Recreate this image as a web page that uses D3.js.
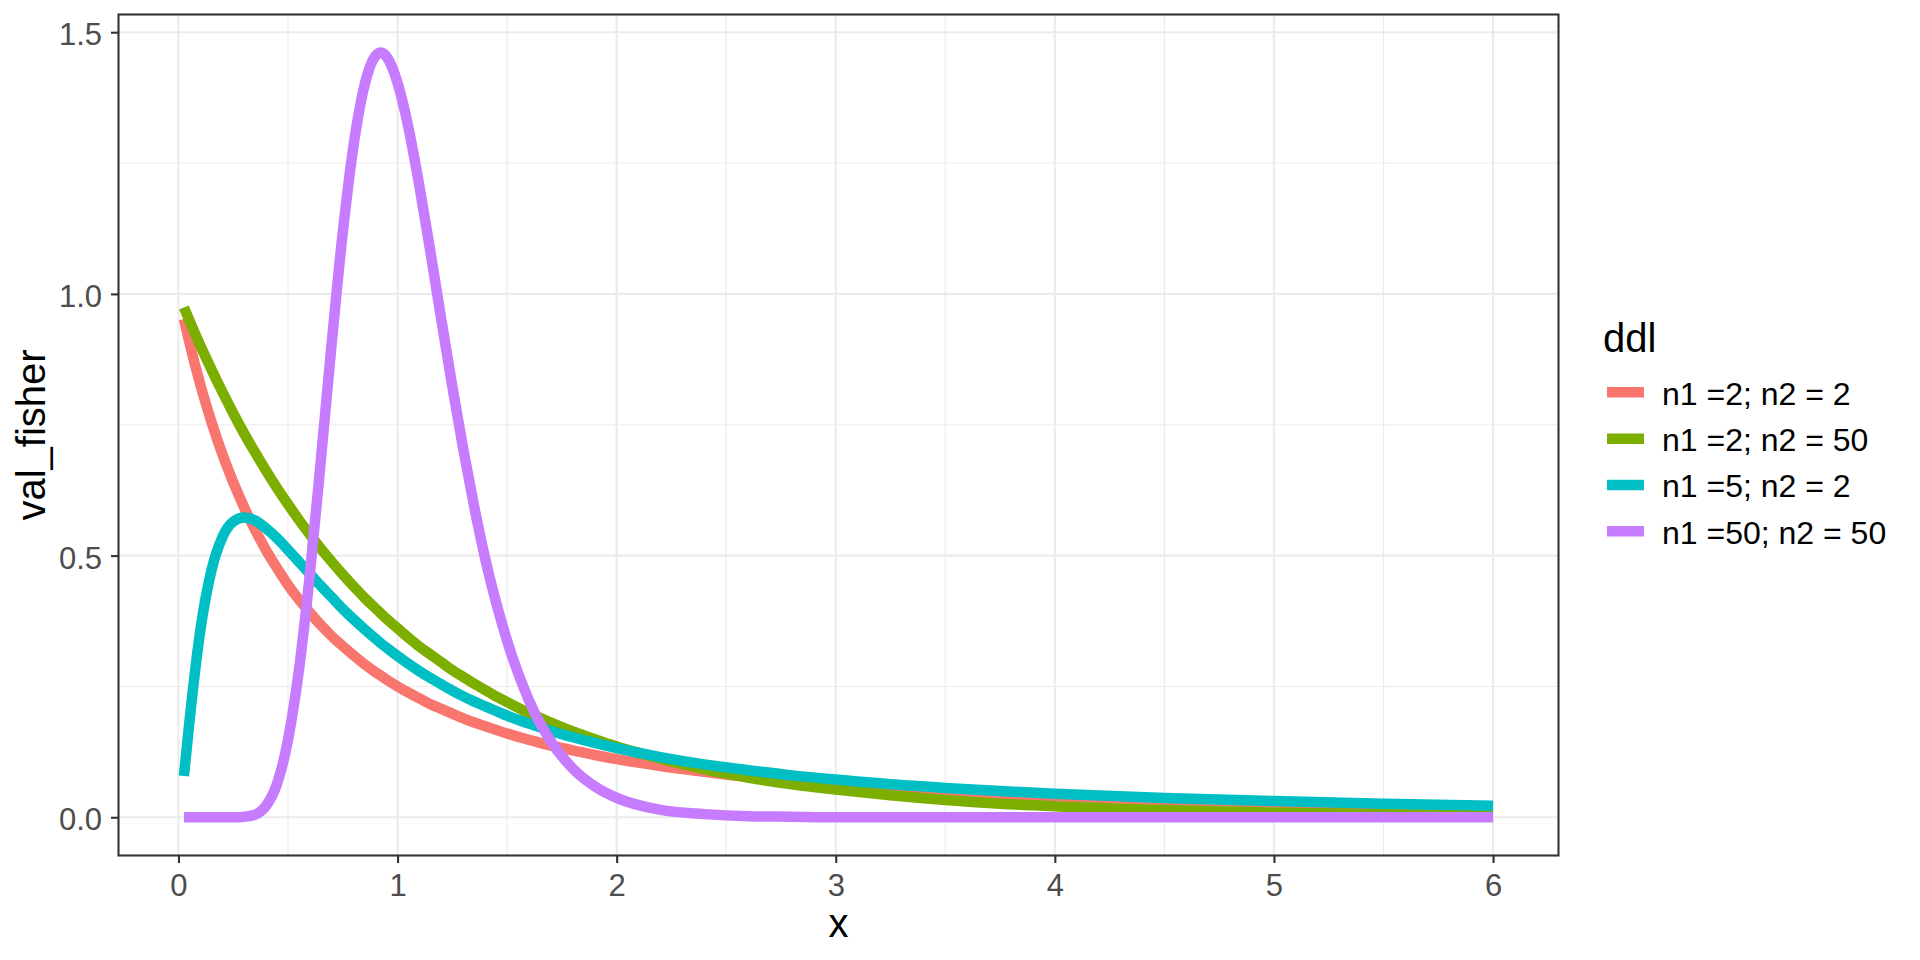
<!DOCTYPE html>
<html>
<head>
<meta charset="utf-8">
<script src="https://cdn.jsdelivr.net/npm/d3@7"></script>
<style>
  html, body { margin: 0; padding: 0; background: #ffffff; }
  svg { display: block; }
  text { font-family: "Liberation Sans", Arial, sans-serif; }
</style>
</head>
<body>
<script>
// ---- data ----
const xValues = [0.025, 0.05, 0.1, 0.15, 0.2, 0.25, 0.3, 0.35, 0.4, 0.45, 0.5, 0.55, 0.6, 0.65, 0.7, 0.75, 0.8, 0.85, 0.9, 0.925, 0.95, 1.0, 1.05, 1.1, 1.15, 1.2, 1.25, 1.3, 1.35, 1.4, 1.45, 1.5, 1.6, 1.7, 1.8, 1.9, 2.0, 2.2, 2.4, 2.6, 2.8, 3.0, 3.25, 3.5, 3.75, 4.0, 4.5, 5.0, 5.5, 6.0];

const seriesNames = ["n1 =2; n2 = 2", "n1 =2; n2 = 50", "n1 =5; n2 = 2", "n1 =50; n2 = 50"];

const valsN2_2 = [0.952, 0.907, 0.826, 0.756, 0.694, 0.640, 0.592, 0.549, 0.510, 0.476, 0.444, 0.416, 0.391, 0.367, 0.346, 0.327, 0.309, 0.292, 0.277, 0.270, 0.263, 0.250, 0.238, 0.227, 0.216, 0.207, 0.198, 0.189, 0.181, 0.174, 0.167, 0.160, 0.148, 0.137, 0.128, 0.119, 0.111, 0.098, 0.087, 0.077, 0.069, 0.063, 0.055, 0.049, 0.044, 0.040, 0.033, 0.028, 0.024, 0.020];

const valsN2_50 = [0.974, 0.949, 0.901, 0.856, 0.813, 0.772, 0.733, 0.697, 0.662, 0.629, 0.598, 0.568, 0.540, 0.513, 0.488, 0.464, 0.441, 0.419, 0.399, 0.389, 0.379, 0.361, 0.343, 0.326, 0.311, 0.296, 0.281, 0.268, 0.255, 0.243, 0.231, 0.220, 0.199, 0.181, 0.164, 0.149, 0.135, 0.112, 0.092, 0.076, 0.063, 0.053, 0.042, 0.033, 0.026, 0.021, 0.014, 0.009, 0.006, 0.004];

const valsN5_2 = [0.079, 0.183, 0.358, 0.471, 0.535, 0.565, 0.573, 0.567, 0.552, 0.533, 0.511, 0.488, 0.465, 0.442, 0.420, 0.398, 0.378, 0.359, 0.341, 0.332, 0.324, 0.308, 0.293, 0.279, 0.266, 0.254, 0.242, 0.231, 0.221, 0.212, 0.203, 0.194, 0.179, 0.165, 0.153, 0.142, 0.132, 0.115, 0.101, 0.090, 0.080, 0.072, 0.063, 0.056, 0.050, 0.045, 0.037, 0.031, 0.026, 0.022];

const valsN50_50 = [0.000, 0.000, 0.000, 0.000, 0.000, 0.000, 0.001, 0.005, 0.022, 0.064, 0.148, 0.282, 0.466, 0.683, 0.909, 1.118, 1.286, 1.400, 1.455, 1.461, 1.453, 1.403, 1.317, 1.205, 1.080, 0.950, 0.823, 0.703, 0.593, 0.494, 0.410, 0.337, 0.223, 0.145, 0.093, 0.059, 0.037, 0.014, 0.006, 0.002, 0.001, 0.000, 0.000, 0.000, 0.000, 0.000, 0.000, 0.000, 0.000, 0.000];

const seriesValues = [valsN2_2, valsN2_50, valsN5_2, valsN50_50];
const seriesColors = ["#F8766D", "#7CAE00", "#00BFC4", "#C77CFF"];

const xTicks = [0, 1, 2, 3, 4, 5, 6];
const xMinor = [0.5, 1.5, 2.5, 3.5, 4.5, 5.5];
const yTicks = [0, 0.5, 1.0, 1.5];
const yMinor = [0.25, 0.75, 1.25];
const yTickLabels = ["0.0", "0.5", "1.0", "1.5"];

const legendTitle = "ddl";
const xTitle = "x";
const yTitle = "val_fisher";

// ---- layout ----
const W = 1920, H = 960;
const panel = { left: 118.5, right: 1558.5, top: 14.5, bottom: 855.5 };

const svg = d3.select("body").append("svg")
  .attr("width", W).attr("height", H)
  .attr("viewBox", `0 0 ${W} ${H}`);

svg.append("rect").attr("width", W).attr("height", H).attr("fill", "#ffffff");

const xExtent = d3.extent(xValues);
const xPad = (xExtent[1] - xExtent[0]) * 0.05;
const yMaxData = 1.4608;
const yPad = (yMaxData - 0) * 0.05;

const x = d3.scaleLinear()
  .domain([xExtent[0] - xPad, xExtent[1] + xPad])
  .range([panel.left, panel.right]);
const y = d3.scaleLinear()
  .domain([0 - yPad, yMaxData + yPad])
  .range([panel.bottom, panel.top]);

// grid
const grid = svg.append("g");
grid.selectAll("line.xminor").data(xMinor).join("line")
  .attr("x1", d => x(d)).attr("x2", d => x(d))
  .attr("y1", panel.top).attr("y2", panel.bottom)
  .attr("stroke", "#EBEBEB").attr("stroke-width", 1.1);
grid.selectAll("line.yminor").data(yMinor).join("line")
  .attr("y1", d => y(d)).attr("y2", d => y(d))
  .attr("x1", panel.left).attr("x2", panel.right)
  .attr("stroke", "#EBEBEB").attr("stroke-width", 1.1);
grid.selectAll("line.xmajor").data(xTicks).join("line")
  .attr("x1", d => x(d)).attr("x2", d => x(d))
  .attr("y1", panel.top).attr("y2", panel.bottom)
  .attr("stroke", "#EBEBEB").attr("stroke-width", 2.1);
grid.selectAll("line.ymajor").data(yTicks).join("line")
  .attr("y1", d => y(d)).attr("y2", d => y(d))
  .attr("x1", panel.left).attr("x2", panel.right)
  .attr("stroke", "#EBEBEB").attr("stroke-width", 2.1);

// lines
const line = d3.line()
  .x(d => x(d[0]))
  .y(d => y(d[1]))
  .curve(d3.curveMonotoneX);

const linesG = svg.append("g");
seriesValues.forEach((vals, i) => {
  const pts = xValues.map((xv, j) => [xv, vals[j]]);
  linesG.append("path")
    .attr("d", line(pts))
    .attr("fill", "none")
    .attr("stroke", seriesColors[i])
    .attr("stroke-width", 10.5)
    .attr("stroke-linejoin", "round")
    .attr("stroke-linecap", "butt");
});

// panel border
svg.append("rect")
  .attr("x", panel.left).attr("y", panel.top)
  .attr("width", panel.right - panel.left).attr("height", panel.bottom - panel.top)
  .attr("fill", "none").attr("stroke", "#333333").attr("stroke-width", 2.1);

// axes
const xAxis = d3.axisBottom(x).tickValues(xTicks).tickSize(7.5).tickPadding(0).tickFormat(d3.format("d"));
const gx = svg.append("g").attr("transform", `translate(0,${panel.bottom})`).call(xAxis);
gx.select(".domain").remove();
gx.selectAll(".tick line").attr("stroke", "#333333").attr("stroke-width", 2.1);
gx.selectAll(".tick text")
  .attr("fill", "#4D4D4D").attr("font-size", 31)
  .attr("font-family", "'Liberation Sans', Arial, sans-serif")
  .attr("dy", null).attr("y", 40.3);

const yAxis = d3.axisLeft(y).tickValues(yTicks).tickSize(7.5).tickPadding(0)
  .tickFormat((d, i) => yTickLabels[i]);
const gy = svg.append("g").attr("transform", `translate(${panel.left},0)`).call(yAxis);
gy.select(".domain").remove();
gy.selectAll(".tick line").attr("stroke", "#333333").attr("stroke-width", 2.1);
gy.selectAll(".tick text")
  .attr("fill", "#4D4D4D").attr("font-size", 31)
  .attr("font-family", "'Liberation Sans', Arial, sans-serif")
  .attr("dy", null).attr("x", -16.5).attr("y", 12.5);

// axis titles
svg.append("text")
  .attr("x", (panel.left + panel.right) / 2).attr("y", 937)
  .attr("text-anchor", "middle").attr("font-size", 40).attr("fill", "#000000")
  .text(xTitle);
svg.append("text")
  .attr("transform", `translate(45,${(panel.top + panel.bottom) / 2}) rotate(-90)`)
  .attr("text-anchor", "middle").attr("font-size", 40).attr("fill", "#000000")
  .text(yTitle);

// legend
const legend = svg.append("g");
legend.append("text")
  .attr("x", 1603).attr("y", 351.7)
  .attr("font-size", 40).attr("fill", "#000000")
  .text(legendTitle);
const keyY = d3.scalePoint().domain(seriesNames).range([392.3, 531.3]);
seriesNames.forEach((name, i) => {
  legend.append("line")
    .attr("x1", 1607).attr("x2", 1644)
    .attr("y1", keyY(name)).attr("y2", keyY(name))
    .attr("stroke", seriesColors[i]).attr("stroke-width", 10.5);
  legend.append("text")
    .attr("x", 1662).attr("y", keyY(name) + 12.5)
    .attr("font-size", 32).attr("fill", "#000000")
    .text(name);
});
</script>
</body>
</html>
